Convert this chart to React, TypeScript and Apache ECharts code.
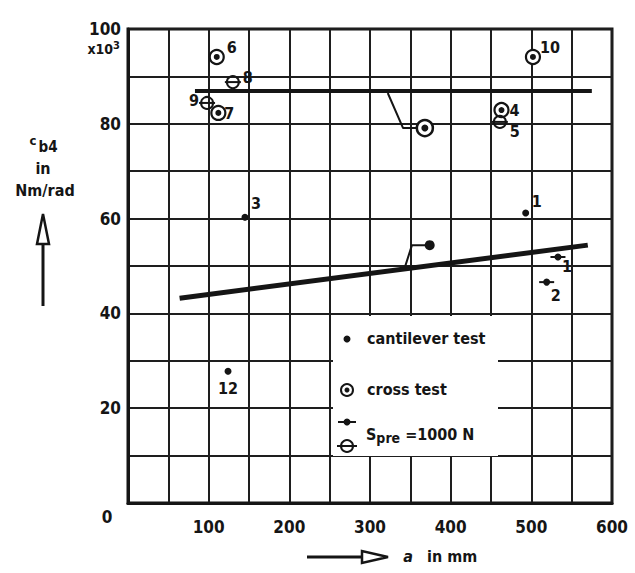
import React, { useEffect, useRef } from "react";
import * as echarts from "echarts";

// ---- data (a in mm, c_b4 in 10^3 Nm/rad) ----
const xTickLabels = [100, 200, 300, 400, 500, 600];
const yTickLabels = [20, 40, 60, 80, 100];

const cantileverNames = ["3", "12", "1"];
const cantileverPts = [[145, 60.3], [124, 27.8], [493, 61.2]];

const crossNames = ["6", "7", "10", "4"];
const crossPts = [[110, 94.1], [112, 82.3], [502, 94.1], [463, 82.9]];

const preCrossNames = ["8", "9", "5"];
const preCrossPts = [[130, 88.8], [98, 84.4], [461, 80.4]];

const preCantNames = ["1", "2"];
const preCantPts = [[533, 51.9], [519, 46.6]];

const crossFit = [[83, 86.9], [575, 86.9]];
const cantFit = [[64, 43.2], [570, 54.4]];
const crossMean = [[368, 79.1]];
const cantMean = [[374, 54.4]];
const crossLeader = [[322, 86.5], [341, 79.1], [362, 79.1]];
const cantLeader = [[343, 49.6], [352, 54.4], [372, 54.4]];

// label offsets (px) — layout, kept apart from data
const cantileverLabelOff = [[11, -14], [0, 17], [11, -11]];
const crossLabelOff = [[15, -9], [11, 1], [17, -9], [13, 0]];
const preCrossLabelOff = [[15, -5], [-13, -2], [15, 10]];
const preCantLabelOff = [[9, 10], [9, 13]];

const FONT = "'DejaVu Sans Condensed', 'DejaVu Sans', sans-serif";
const INK = "#151515";

function labelled(pts: number[][], names: string[], offs: number[][]) {
  return pts.map((p, i) => ({
    value: p,
    name: names[i],
    label: { offset: offs[i] },
  }));
}

const labelStyle = {
  show: true,
  position: "inside" as const,
  formatter: "{b}",
  color: INK,
  opacity: 1,
  textBorderWidth: 0,
  fontFamily: FONT,
  fontWeight: "bold" as const,
  fontSize: 16,
};

const noLabel = { show: false };

export default function App() {
  const ref = useRef<HTMLDivElement>(null);
  useEffect(() => {
    if (!ref.current) return;
    const chart = echarts.init(ref.current, null, { renderer: "svg" });
    const axisText = {
      color: INK,
      fontFamily: FONT,
      fontWeight: "bold" as const,
      fontSize: 17,
    };
    const scatterBase = {
      type: "scatter",
      emphasis: { disabled: true },
      silent: true,
    };
    const option: any = {
      animation: false,
      backgroundColor: "#ffffff",
      grid: {
        left: 128,
        right: 23,
        top: 29,
        bottom: 70,
        show: true,
        borderColor: INK,
        borderWidth: 3,
        backgroundColor: "transparent",
      },
      xAxis: {
        type: "value",
        min: 0,
        max: 600,
        interval: 50,
        axisLine: { show: true, lineStyle: { color: INK, width: 3 } },
        axisTick: { show: false },
        splitLine: { show: true, lineStyle: { color: "#1e1e1e", width: 2 } },
        axisLabel: {
          ...axisText,
          margin: 15,
          formatter: (v: number) => (xTickLabels.includes(v) ? String(v) : ""),
        },
      },
      yAxis: {
        type: "value",
        min: 0,
        max: 100,
        interval: 10,
        axisLine: { show: true, lineStyle: { color: INK, width: 3 } },
        axisTick: { show: false },
        splitLine: { show: true, lineStyle: { color: "#1e1e1e", width: 2 } },
        axisLabel: {
          ...axisText,
          margin: 7,
          formatter: (v: number) => (yTickLabels.includes(v) ? String(v) : ""),
        },
      },
      series: [
        { type: "line", data: crossFit, symbol: "none", lineStyle: { color: INK, width: 4 }, z: 3 },
        { type: "line", data: cantFit, symbol: "none", lineStyle: { color: INK, width: 5 }, z: 3 },
        { type: "line", data: crossLeader, symbol: "none", lineStyle: { color: INK, width: 2 }, z: 3 },
        { type: "line", data: cantLeader, symbol: "none", lineStyle: { color: INK, width: 2 }, z: 3 },
        // cross test: outer ring + centre dot
        {
          ...scatterBase,
          data: labelled(crossPts, crossNames, crossLabelOff),
          symbol: "circle",
          symbolSize: 14,
          itemStyle: { color: "#fff", borderColor: INK, borderWidth: 2.2, opacity: 1 },
          label: labelStyle,
          z: 4,
        },
        {
          ...scatterBase,
          data: crossPts,
          symbol: "circle",
          symbolSize: 6,
          itemStyle: { color: INK, opacity: 1 },
          label: noLabel,
          z: 5,
        },
        // cross mean marker
        {
          ...scatterBase,
          data: crossMean,
          symbol: "circle",
          symbolSize: 16,
          itemStyle: { color: "#fff", borderColor: INK, borderWidth: 2.5, opacity: 1 },
          z: 4,
        },
        {
          ...scatterBase,
          data: crossMean,
          symbol: "circle",
          symbolSize: 7,
          itemStyle: { color: INK, opacity: 1 },
          z: 5,
        },
        // cantilever
        {
          ...scatterBase,
          data: labelled(cantileverPts, cantileverNames, cantileverLabelOff),
          symbol: "circle",
          symbolSize: 7,
          itemStyle: { color: INK, opacity: 1 },
          label: labelStyle,
          z: 4,
        },
        {
          ...scatterBase,
          data: cantMean,
          symbol: "circle",
          symbolSize: 10,
          itemStyle: { color: INK, opacity: 1 },
          z: 4,
        },
        // prestressed cross: open circle + bar
        {
          ...scatterBase,
          data: labelled(preCrossPts, preCrossNames, preCrossLabelOff),
          symbol: "circle",
          symbolSize: 12,
          itemStyle: { color: "rgba(255,255,255,0)", borderColor: INK, borderWidth: 2, opacity: 1 },
          label: labelStyle,
          z: 4,
        },
        {
          ...scatterBase,
          data: preCrossPts,
          symbol: "rect",
          symbolSize: [16, 2],
          itemStyle: { color: INK, opacity: 1 },
          z: 5,
        },
        // prestressed cantilever: dot + bar
        {
          ...scatterBase,
          data: labelled(preCantPts, preCantNames, preCantLabelOff),
          symbol: "circle",
          symbolSize: 7,
          itemStyle: { color: INK, opacity: 1 },
          label: labelStyle,
          z: 4,
        },
        {
          ...scatterBase,
          data: preCantPts,
          symbol: "rect",
          symbolSize: [15, 2],
          itemStyle: { color: INK, opacity: 1 },
          z: 5,
        },
      ],
      graphic: [
        // legend box
        {
          type: "rect",
          z: 10,
          shape: { x: 333, y: 316, width: 165, height: 140 },
          style: { fill: "#fff" },
        },
        { type: "circle", z: 11, shape: { cx: 347, cy: 339, r: 3.5 }, style: { fill: INK } },
        {
          type: "text",
          z: 11,
          x: 367,
          y: 338,
          style: { text: "cantilever test", fill: INK, font: `bold 16px ${FONT}`, verticalAlign: "middle" },
        },
        {
          type: "circle",
          z: 11,
          shape: { cx: 347, cy: 390, r: 6 },
          style: { fill: "#fff", stroke: INK, lineWidth: 2 },
        },
        { type: "circle", z: 12, shape: { cx: 347, cy: 390, r: 2.5 }, style: { fill: INK } },
        {
          type: "text",
          z: 11,
          x: 367,
          y: 389,
          style: { text: "cross test", fill: INK, font: `bold 16px ${FONT}`, verticalAlign: "middle" },
        },
        {
          type: "line",
          z: 11,
          shape: { x1: 338, y1: 422, x2: 356, y2: 422 },
          style: { stroke: INK, lineWidth: 2 },
        },
        { type: "circle", z: 12, shape: { cx: 347, cy: 422, r: 3.5 }, style: { fill: INK } },
        {
          type: "line",
          z: 11,
          shape: { x1: 337, y1: 446, x2: 357, y2: 446 },
          style: { stroke: INK, lineWidth: 2 },
        },
        {
          type: "circle",
          z: 12,
          shape: { cx: 347, cy: 446, r: 6 },
          style: { fill: "rgba(255,255,255,0)", stroke: INK, lineWidth: 2 },
        },
        {
          type: "text",
          z: 11,
          x: 366,
          y: 434,
          style: {
            text: "{s|S}{sub|pre}{s| =1000 N}",
            verticalAlign: "middle",
            rich: {
              s: { fill: INK, font: `bold 16px ${FONT}` },
              sub: { fill: INK, font: `bold 14px ${FONT}`, padding: [8, 0, 0, 0] },
            },
          },
        },
        // y-axis extras
        {
          type: "text",
          x: 107,
          y: 517,
          style: { text: "0", fill: INK, font: `bold 17px ${FONT}`, align: "center", verticalAlign: "middle" },
        },
        {
          type: "text",
          x: 120,
          y: 49,
          style: {
            text: "{a|x10}{b|3}",
            align: "right",
            verticalAlign: "middle",
            rich: {
              a: { fill: INK, font: `bold 14px ${FONT}` },
              b: { fill: INK, font: `bold 11px ${FONT}`, padding: [0, 0, 8, 0] },
            },
          },
        },
        // y-axis name
        {
          type: "text",
          x: 33,
          y: 140,
          style: { text: "c", fill: INK, font: `bold 13px ${FONT}`, align: "center", verticalAlign: "middle" },
        },
        {
          type: "text",
          x: 48,
          y: 147,
          style: { text: "b4", fill: INK, font: `bold 15px ${FONT}`, align: "center", verticalAlign: "middle" },
        },
        {
          type: "text",
          x: 43,
          y: 168,
          style: { text: "in", fill: INK, font: `bold 16px ${FONT}`, align: "center", verticalAlign: "middle" },
        },
        {
          type: "text",
          x: 45,
          y: 190,
          style: { text: "Nm/rad", fill: INK, font: `bold 16px ${FONT}`, align: "center", verticalAlign: "middle" },
        },
        {
          type: "line",
          shape: { x1: 43, y1: 306, x2: 43, y2: 232 },
          style: { stroke: INK, lineWidth: 3 },
        },
        {
          type: "polygon",
          shape: { points: [[43, 214], [37, 244], [49, 244]] },
          style: { fill: "#fff", stroke: INK, lineWidth: 2.5 },
        },
        // x-axis name
        {
          type: "line",
          shape: { x1: 307, y1: 557, x2: 372, y2: 557 },
          style: { stroke: INK, lineWidth: 3 },
        },
        {
          type: "polygon",
          shape: { points: [[388, 557], [362, 551], [362, 563]] },
          style: { fill: "#fff", stroke: INK, lineWidth: 2.5 },
        },
        {
          type: "text",
          x: 408,
          y: 556,
          style: { text: "a", fill: INK, font: `italic bold 16px ${FONT}`, align: "center", verticalAlign: "middle" },
        },
        {
          type: "text",
          x: 427,
          y: 556,
          style: { text: "in mm", fill: INK, font: `bold 16px ${FONT}`, verticalAlign: "middle" },
        },
      ],
    };
    chart.setOption(option);
    return () => chart.dispose();
  }, []);
  return (
    <div
      ref={ref}
      style={{ position: "fixed", left: 0, top: 0, width: 635, height: 573, background: "#fff" }}
    />
  );
}
